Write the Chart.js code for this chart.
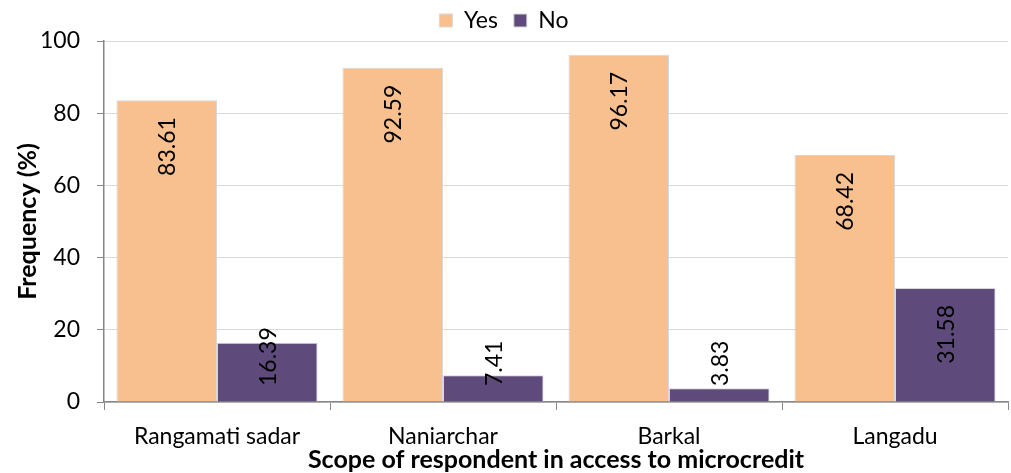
<!DOCTYPE html>
<html>
<head>
<meta charset="utf-8">
<script src="https://cdn.jsdelivr.net/npm/chart.js@4"></script>
<style>
  html, body { margin: 0; padding: 0; background: #fff; }
  #wrap { width: 1011px; height: 473px; position: relative; }
</style>
</head>
<body>
<div id="wrap"><canvas id="chart"></canvas></div>
<script>
// --- data ---
const categories = ['Rangamati sadar', 'Naniarchar', 'Barkal', 'Langadu'];
const yesValues = [83.61, 92.59, 96.17, 68.42];
const noValues = [16.39, 7.41, 3.83, 31.58];
const yTicks = [0, 20, 40, 60, 80, 100];

const FONT = 'Lato, "Open Sans", sans-serif';

// rotated labels inside the top of each bar
const barLabels = {
    id: 'barLabels',
    afterDatasetsDraw(chart) {
        const ctx = chart.ctx;
        const base = chart.scales.y.getPixelForValue(0);
        ctx.save();
        ctx.font = '23px ' + FONT;
        ctx.fillStyle = '#000';
        ctx.textBaseline = 'middle';
        chart.data.datasets.forEach((ds, i) => {
            chart.getDatasetMeta(i).data.forEach((bar, j) => {
                const txt = ds.data[j].toFixed(2);
                const len = ctx.measureText(txt).width;
                let bottom = bar.y + 17 + len;
                if (bottom > base - 16) bottom = base - 16;
                ctx.save();
                ctx.translate(bar.x, bottom - len / 2);
                ctx.rotate(-Math.PI / 2);
                ctx.textAlign = 'center';
                ctx.fillText(txt, 0, 1);
                ctx.restore();
            });
        });
        ctx.restore();
    }
};

// keep the legend band at a fixed height and draw it a bit higher
const legendHeight = {
    id: 'legendHeight',
    beforeInit(chart) {
        const lg = chart.legend;
        const origFit = lg.fit;
        const origDraw = lg.draw;
        lg.fit = function () {
            origFit.call(this);
            this.height = 41;
        };
        lg.draw = function () {
            this.ctx.save();
            this.ctx.translate(0, -7);
            origDraw.call(this);
            this.ctx.restore();
        };
    }
};

new Chart(document.getElementById('chart'), {
    type: 'bar',
    data: {
        labels: categories,
        datasets: [
            {
                label: 'Yes',
                data: yesValues,
                backgroundColor: '#F9C08F',
                borderColor: '#D8D8D8',
                borderWidth: 1
            },
            {
                label: 'No',
                data: noValues,
                backgroundColor: '#5F4B7B',
                borderColor: '#D8D8D8',
                borderWidth: 1
            }
        ]
    },
    options: {
        responsive: true,
        maintainAspectRatio: false,
        animation: false,
        layout: { padding: { top: 0, right: 3, left: 0, bottom: 0 } },
        datasets: {
            bar: { categoryPercentage: 0.89, barPercentage: 1.0 }
        },
        scales: {
            x: {
                afterFit: (axis) => { axis.height = 71; },
                grid: {
                    display: true,
                    offset: true,
                    drawOnChartArea: false,
                    color: '#868686',
                    tickLength: 8
                },
                border: { color: '#868686', width: 1.5 },
                ticks: { color: '#000', font: { family: FONT, size: 23 }, padding: 13 },
                title: {
                    display: true,
                    text: 'Scope of respondent in access to microcredit',
                    color: '#000',
                    font: { family: FONT, size: 25, weight: 'bold' },
                    padding: { top: 0, bottom: -2 }
                }
            },
            y: {
                min: 0,
                max: 100,
                afterBuildTicks: (axis) => { axis.ticks = yTicks.map(v => ({ value: v })); },
                afterFit: (axis) => { axis.width = 104; },
                grid: {
                    color: '#D9D9D9',
                    tickColor: '#868686',
                    tickLength: 7
                },
                border: { color: '#868686', width: 1.5 },
                ticks: { color: '#000', font: { family: FONT, size: 23 }, padding: 17 },
                title: {
                    display: true,
                    text: 'Frequency (%)',
                    color: '#000',
                    font: { family: FONT, size: 25, weight: 'bold' },
                    padding: { top: 13, bottom: 0 }
                }
            }
        },
        plugins: {
            legend: {
                position: 'top',
                labels: {
                    color: '#000',
                    font: { family: FONT, size: 23 },
                    boxWidth: 13,
                    boxHeight: 13,
                    padding: 16
                }
            },
            tooltip: { enabled: false }
        }
    },
    plugins: [legendHeight, barLabels]
});
</script>
</body>
</html>
